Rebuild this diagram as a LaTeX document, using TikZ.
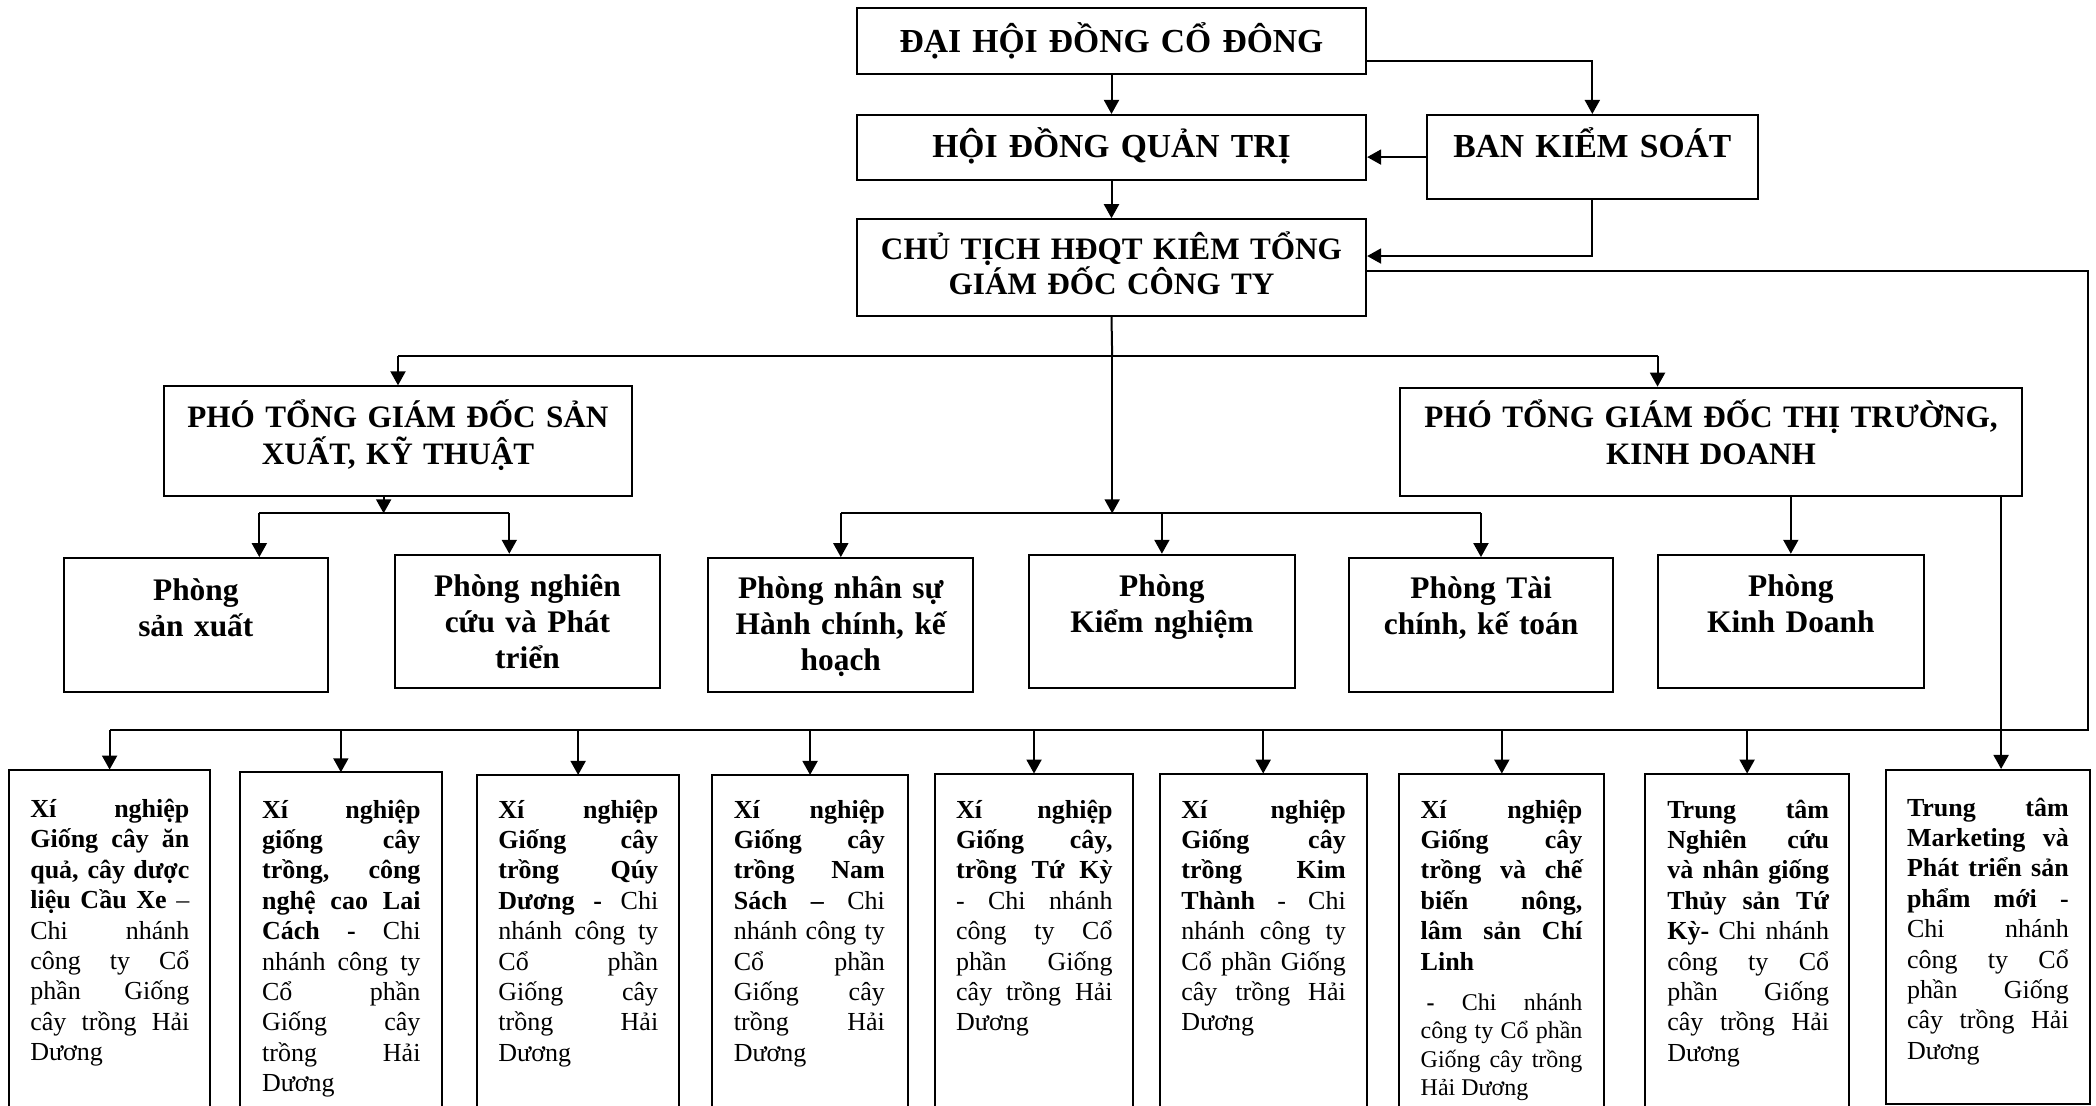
\documentclass[tikz,border=0pt]{standalone}
\usepackage{fontspec}
\setmainfont{Liberation Serif}
\usetikzlibrary{arrows.meta,fit,calc}
\hyphenpenalty=10000
\exhyphenpenalty=10000
\tolerance=9999
\hbadness=10000
\emergencystretch=10pt
\begin{document}
\begin{tikzpicture}[x=0.6685pt,y=-0.6685pt,
  bx/.style={draw, line width=1pt, inner sep=0pt},
  fr/.style={inner sep=0pt},
  hA/.style={font=\bfseries\fontsize{16.8}{19}\selectfont, align=center, text width=320pt, inner sep=0pt, anchor=base},
  hB/.style={font=\bfseries\fontsize{15.6}{17.8}\selectfont, align=center, text width=320pt, inner sep=0pt, anchor=base},
  hC/.style={font=\bfseries\fontsize{15.6}{18.3}\selectfont, align=center, text width=320pt, inner sep=0pt, anchor=base},
  rt/.style={font=\bfseries\fontsize{15.7}{18}\selectfont, align=center, text width=130pt, inner sep=0pt, anchor=base},
  ut/.style={font=\fontsize{13}{15.2}\selectfont, align=justify, inner sep=0pt, anchor=base west},
  ln/.style={line width=1pt},
  arr/.style={line width=1pt, -{Triangle[length=7pt,width=7.5pt]}},
]
\useasboundingbox (0,0) rectangle (1568,827);

% ---------- top level boxes ----------
\node[bx, fit={(641,6.2) (1022,55)}] (dh) {};
\node[bx, fit={(641,86) (1022,134.7)}] (hdqt) {};
\node[bx, fit={(1067.6,86) (1314.8,149)}] (bks) {};
\node[bx, fit={(641,164) (1022,236.4)}] (ct) {};
\node[bx, fit={(122.5,289) (473,370.8)}] (psx) {};
\node[bx, fit={(1047,290) (1513,371)}] (ptt) {};
\node[hA] (dht) at (831.5,39.6) {ĐẠI HỘI ĐỒNG CỔ ĐÔNG};
\node[hA] (hdqtt) at (831.5,118.1) {HỘI ĐỒNG QUẢN TRỊ};
\node[hA] (bkst) at (1191.2,118.1) {BAN KIỂM SOÁT};
\node[hB] (ctt) at (831.5,194) {CHỦ TỊCH HĐQT KIÊM TỔNG\\GIÁM ĐỐC CÔNG TY};
\node[hC] (psxt) at (297.7,320) {PHÓ TỔNG GIÁM ĐỐC SẢN\\XUẤT, KỸ THUẬT};
\node[hC] (pttt) at (1280,320) {PHÓ TỔNG GIÁM ĐỐC THỊ TRƯỜNG,\\KINH DOANH};

% ---------- departments ----------
\node[bx, fit={(47.6,417.5) (245.5,517.5)}] (sx) {};
\node[bx, fit={(295.6,415) (493.6,515)}] (nc) {};
\node[bx, fit={(530,417.5) (728,517.5)}] (ns) {};
\node[bx, fit={(770,415) (968.4,515)}] (kn) {};
\node[bx, fit={(1008.8,417.5) (1207,517.5)}] (tc) {};
\node[bx, fit={(1240.4,415) (1439,515)}] (kd) {};
\node[rt] (sxt) at (146.5,449) {Phòng\\sản xuất};
\node[rt] (nct) at (394.6,446.5) {Phòng nghiên\\cứu và Phát\\triển};
\node[rt] (nst) at (629,448) {Phòng nhân sự\\Hành chính, kế\\hoạch};
\node[rt] (knt) at (869.2,446.5) {Phòng\\Kiểm nghiệm};
\node[rt] (tct) at (1108,448) {Phòng Tài\\chính, kế toán};
\node[rt] (kdt) at (1339.7,446) {Phòng\\Kinh Doanh};

% ---------- units ----------
\node[fr, fit={(7,576) (157,827)}] (u1) {};
\node[fr, fit={(180,578) (330,827)}] (u2) {};
\node[fr, fit={(357,580) (508,827)}] (u3) {};
\node[fr, fit={(533,580) (679,827)}] (u4) {};
\node[fr, fit={(699.5,579) (847.6,827)}] (u5) {};
\node[fr, fit={(868,579) (1022,827)}] (u6) {};
\node[fr, fit={(1047,579) (1200,827)}] (u7) {};
\node[fr, fit={(1231,579) (1383,827)}] (u8) {};
\node[bx, fit={(1410.6,576) (1563.3,826)}] (u9) {};
\foreach \i in {1,...,8}{
  \draw[ln] (u\i.south west) -- (u\i.north west) -- (u\i.north east) -- (u\i.south east);
}

\node[ut, text width=79.55pt] (t1) at (22.4,611.5) {\textbf{Xí nghiệp\linebreak Giống cây ăn\linebreak quả, cây dược\linebreak liệu Cầu Xe} –\linebreak Chi nhánh\linebreak công ty Cổ\linebreak phần Giống\linebreak cây trồng Hải\linebreak Dương};
\node[ut, text width=79.2pt] (t2) at (195.8,612) {\textbf{Xí nghiệp\linebreak giống cây\linebreak trồng, công\linebreak nghệ cao Lai\linebreak Cách -} Chi\linebreak nhánh công ty\linebreak Cổ phần\linebreak Giống cây\linebreak trồng Hải\linebreak Dương};
\node[ut, text width=79.9pt] (t3) at (372.6,612) {\textbf{Xí nghiệp\linebreak Giống cây\linebreak trồng Qúy\linebreak Dương -} Chi\linebreak nhánh công ty\linebreak Cổ phần\linebreak Giống cây\linebreak trồng Hải\linebreak Dương};
\node[ut, text width=75.5pt] (t4) at (548.7,612) {\textbf{Xí nghiệp\linebreak Giống cây\linebreak trồng Nam\linebreak Sách –} Chi\linebreak nhánh công ty\linebreak Cổ phần\linebreak Giống cây\linebreak trồng Hải\linebreak Dương};
\node[ut, text width=78.2pt] (t5) at (715,612) {\textbf{Xí nghiệp\linebreak Giống cây,\linebreak trồng Tứ Kỳ}\linebreak - Chi nhánh\linebreak công ty Cổ\linebreak phần Giống\linebreak cây trồng Hải\linebreak Dương};
\node[ut, text width=82.2pt] (t6) at (883.5,612) {\textbf{Xí nghiệp\linebreak Giống cây\linebreak trồng Kim\linebreak Thành} - Chi\linebreak nhánh công ty\linebreak Cổ phần Giống\linebreak cây trồng Hải\linebreak Dương};
\node[ut, text width=80.9pt] (t7) at (1062.5,612) {\textbf{Xí nghiệp\linebreak Giống cây\linebreak trồng và chế\linebreak biến nông,\linebreak lâm sản Chí\linebreak Linh}\par\vspace{6pt}{\fontsize{12}{14.2}\selectfont\hspace*{3pt}\textbf{-} Chi nhánh\linebreak công ty Cổ phần\linebreak Giống cây trồng\linebreak Hải Dương\par}};
\node[ut, text width=80.9pt] (t8) at (1247,612) {\textbf{Trung tâm\linebreak Nghiên cứu\linebreak và nhân giống\linebreak Thủy sản Tứ\linebreak Kỳ-} Chi nhánh\linebreak công ty Cổ\linebreak phần Giống\linebreak cây trồng Hải\linebreak Dương};
\node[ut, text width=80.9pt] (t9) at (1426.3,610.5) {\textbf{Trung tâm\linebreak Marketing và\linebreak Phát triển sản\linebreak phẩm mới -}\linebreak Chi nhánh\linebreak công ty Cổ\linebreak phần Giống\linebreak cây trồng Hải\linebreak Dương};

% ---------- connectors: top ----------
\draw[arr] (dh.south) -- (hdqt.north);
\draw[arr] ([yshift=-10pt]dh.east) -| (bks.north);
\draw[arr] (bks.west) -- (bks.west -| hdqt.east);
\draw[arr] (hdqt.south) -- (ct.north);
\draw[arr] (bks.south) |- ([yshift=5.8pt]ct.east);

% ---------- connectors: CT to deputies and departments ----------
\coordinate (j1) at (832,266);
\coordinate (j2) at (1240,266);
\coordinate (b2) at (832,384);
\draw[ln] (ct.south) -- (j1);
\draw[ln] (j1 -| psx.north) -- (j2);
\draw[arr] (j1 -| psx.north) -- (psx.north);
\draw[arr] (j2) -- (j2 |- ptt.north);
\draw[arr] (j1) -- (b2);
\draw[ln] (b2 -| ns.north) -- (b2 -| tc.north);
\draw[arr] (b2 -| ns.north) -- (ns.north);
\draw[arr] (b2 -| kn.north) -- (kn.north);
\draw[arr] (b2 -| tc.north) -- (tc.north);

% ---------- connectors: deputy production ----------
\coordinate (b3) at (287,384);
\coordinate (b3l) at (194,384);
\coordinate (b3r) at (381,384);
\draw[arr] (b3 |- psx.south) -- (b3);
\draw[ln] (b3l) -- (b3r);
\draw[arr] (b3l) -- (b3l |- sx.north);
\draw[arr] (b3r) -- (b3r |- nc.north);

% ---------- connectors: deputy market ----------
\coordinate (mk) at (1497,371);
\draw[arr] (ptt.south -| kd.north) -- (kd.north);
\draw[arr] (ptt.south -| mk) -- (u9.north -| mk);

% ---------- connectors: bottom bus ----------
\coordinate (br) at (1562,546);
\draw[ln] ([yshift=-1.5pt]ct.east) -| (br) -- (br -| u1.north);
\foreach \i in {1,...,8}{
  \draw[arr] (u\i.north |- br) -- (u\i.north);
}
\end{tikzpicture}
\end{document}
